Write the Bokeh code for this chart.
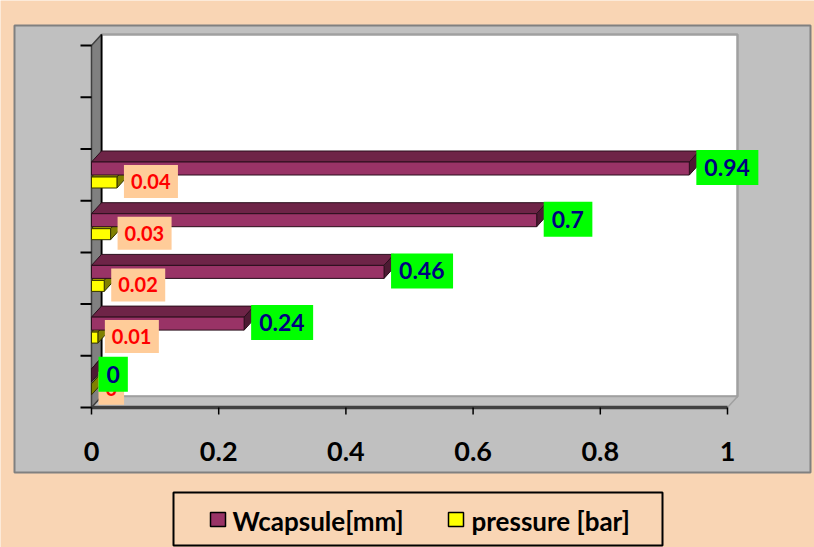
from bokeh.plotting import figure
from bokeh.models import Range1d
from bokeh.embed import file_html
from bokeh.resources import INLINE
from bokeh.core.properties import value

# ---------------- data ----------------
series_names = ["Wcapsule[mm]", "pressure [bar]"]
wcapsule = [0.0, 0.24, 0.46, 0.70, 0.94]
pressure = [0.0, 0.01, 0.02, 0.03, 0.04]
wc_labels = ["0", "0.24", "0.46", "0.7", "0.94"]
pr_labels = ["0", "0.01", "0.02", "0.03", "0.04"]
n_categories = 7
x_ticks = [0, 0.2, 0.4, 0.6, 0.8, 1.0]
x_tick_labels = ["0", "0.2", "0.4", "0.6", "0.8", "1"]

# ---------------- layout helpers (page px -> data) ----------------
X0, XS = 91.0, 636.0      # page x of value 0, px per value unit
Y0, YS = 407.0, 51.7      # page y of floor, px per category
def dxp(px): return px / XS
def dyp(px): return px / YS
def X(px): return (px - X0) / XS
def Y(py): return (Y0 - py) / YS

PEACH = "#F9D5B4"
GRAY = "#C0C0C0"
FONT = value("Lato")
DX, DY = dxp(10), dyp(11)

def text_px(s, size):
    w = sum(0.26 if c == "." else 0.58 for c in s)
    return w * size

W, H = 814, 547
p = figure(width=W, height=H, x_range=Range1d(X(0), X(W)), y_range=Range1d(Y(H), Y(0)),
           x_axis_type=None, y_axis_type=None, toolbar_location=None, output_backend="svg",
           min_border=0, background_fill_color=PEACH, border_fill_color=PEACH, outline_line_color=None)
p.grid.visible = False

# chart area
p.quad(left=X(14), right=X(810), top=Y(25), bottom=Y(472), fill_color=GRAY, line_color="#808080", line_width=2)

# back wall
p.quad(left=DX, right=1 + DX, bottom=DY, top=n_categories + DY, fill_color="white", line_color="#A0A0A0", line_width=2.5)
# floor
p.patch([0, 1, 1 + DX, DX], [0, 0, DY, DY], fill_color=GRAY, line_color="#A0A0A0", line_width=1.5)
p.line([0, 1], [0, 0], line_color="#404040", line_width=3.5)
# left wall
p.patch([0, 0, DX, DX], [0, n_categories, n_categories + DY, DY], fill_color="#808080", line_color="#404040", line_width=1.5)
p.line([DX, DX], [DY, n_categories + DY], line_color="black", line_width=1.5)

# y ticks (category boundaries)
cat_edges = list(range(n_categories + 1))
p.segment(x0=[dxp(-11)] * len(cat_edges), x1=[0] * len(cat_edges), y0=cat_edges, y1=cat_edges,
          line_color="black", line_width=2)
# x ticks
p.segment(x0=x_ticks, x1=x_ticks, y0=[0] * len(x_ticks), y1=[dyp(-7)] * len(x_ticks), line_color="black", line_width=1.5)
p.text(x=x_ticks, y=[Y(451)] * len(x_ticks), text=x_tick_labels, text_font=FONT, text_font_style="bold",
       text_font_size="27px", text_align="center", text_baseline="middle", text_color="black")

# ---------------- bars ----------------
def draw_bars(vals, top_off, bot_off, front, top, end, outline):
    yt = [i + 1 - dyp(top_off) for i in range(len(vals))]
    yb = [i + 1 - dyp(bot_off) for i in range(len(vals))]
    txs = [[0, v, v + DX, DX] for v in vals]
    tys = [[a, a, a + DY, a + DY] for a in yt]
    exs = [[v, v + DX, v + DX, v] for v in vals]
    eys = [[b, b + DY, a + DY, a] for a, b in zip(yt, yb)]
    p.patches(txs, tys, fill_color=top, line_color=outline, line_width=1)
    p.patches(exs, eys, fill_color=end, line_color=outline, line_width=1)
    p.quad(left=[0] * len(vals), right=vals, bottom=yb, top=yt, fill_color=front, line_color=outline, line_width=1)

draw_bars(pressure, 28, 39, "#FFFF00", "#B3B300", "#808000", "#333300")
draw_bars(wcapsule, 13, 26, "#993366", "#6E2447", "#4D1A33", "#2A0F1C")

# ---------------- data labels ----------------
def draw_labels(vals, labels, yoff, size, padx, boxh, fill, color):
    ys = [i + 1 - dyp(yoff) for i in range(len(vals))]
    lefts = [v + dxp(7) for v in vals]
    rights = [l + dxp(text_px(t, size) + 2 * padx) for l, t in zip(lefts, labels)]
    p.quad(left=lefts, right=rights, bottom=[y - dyp(boxh / 2) for y in ys], top=[y + dyp(boxh / 2) for y in ys],
           fill_color=fill, line_color=None)
    p.text(x=[l + dxp(padx) for l in lefts], y=ys, text=labels, text_font=FONT, text_font_style="bold",
           text_font_size="%dpx" % size, text_color=color, text_align="left", text_baseline="middle")

draw_labels(pressure, pr_labels, 32.5, 20, 7, 33, "#FFCC99", "#FF0000")
draw_labels(wcapsule, wc_labels, 18.5, 23, 8, 35, "#00FF00", "#000080")

# ---------------- legend ----------------
p.quad(left=X(173), right=X(662), top=Y(492), bottom=Y(545), fill_color=PEACH, line_color="black", line_width=2)
p.quad(left=[X(210), X(448)], right=[X(225), X(463)], top=[Y(512)] * 2, bottom=[Y(526)] * 2,
       fill_color=["#993366", "#FFFF00"], line_color="black", line_width=1.5)
p.text(x=[X(232), X(471)], y=[Y(520)] * 2, text=series_names, text_font=FONT, text_font_style="bold",
       text_font_size="26px", text_align="left", text_baseline="middle", text_color="black")

open("out.html", "w").write(file_html(p, INLINE))
